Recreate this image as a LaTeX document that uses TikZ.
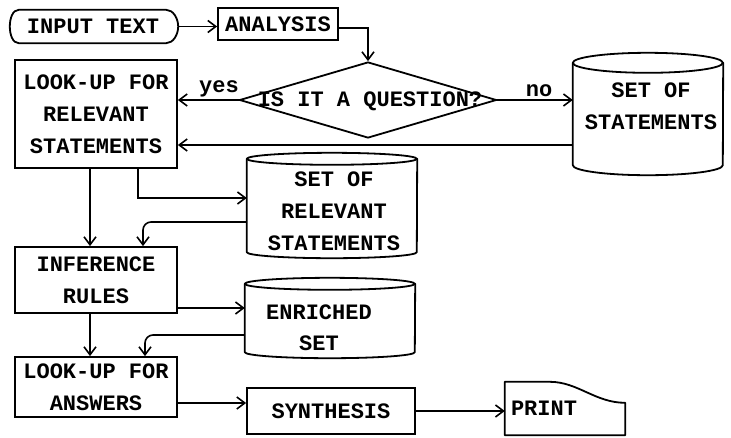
\documentclass[tikz,border=0pt]{standalone}
\usepackage{fontspec}
\setmonofont{Liberation Mono}
\usetikzlibrary{arrows.meta,shapes.geometric}
\newcommand\mycyl[3]{%
  \draw[line] ([yshift=-#3]#1.north west) arc[start angle=180,end angle=-180,x radius=#2,y radius=#3];
  \draw[line] ([yshift=-#3]#1.north west) -- ([yshift=#3]#1.south west)
    arc[start angle=180,end angle=360,x radius=#2,y radius=#3] -- ([yshift=-#3]#1.north east);
}
\begin{document}
\begin{tikzpicture}[x=1pt,y=-1pt,
  txt/.style={font=\ttfamily\bfseries\fontsize{22}{32}\selectfont, align=center, inner sep=0pt},
  box/.style={txt, draw, line width=1.8pt, rectangle},
  shp/.style={inner sep=0pt},
  line/.style={line width=1.8pt, line join=round, line cap=round},
  arr/.style={line width=1.6pt, -{Straight Barb[length=8pt,width=12pt]}},
  qdiamond/.style={diamond, draw, line width=1.8pt, inner sep=0pt, minimum width=257pt, minimum height=76pt},
]
\useasboundingbox (0,0) rectangle (731,437);

% nodes
\node[shp, minimum width=168pt, minimum height=33pt] (input) at (94,26.5) {};
\node[txt] (inputt) at (93,26.5) {INPUT TEXT};
\node[box, minimum width=120pt, minimum height=32pt] (analysis) at (278,24) {ANALYSIS};
\node[qdiamond] (q) at (368,100) {};
\node[txt] (qt) at (370,101) {IS IT A QUESTION?};
\node[box, minimum width=162pt, minimum height=108pt] (look1) at (96,114) {LOOK-UP FOR\\RELEVANT\\STATEMENTS};
\node[box, minimum width=162pt, minimum height=66pt] (infer) at (96,280) {INFERENCE\\RULES};
\node[box, minimum width=162pt, minimum height=60pt] (look2) at (96,387) {LOOK-UP FOR\\ANSWERS};
\node[box, minimum width=168pt, minimum height=46pt] (synth) at (331,411) {SYNTHESIS};
\node[shp, minimum width=120pt, minimum height=53pt] (print) at (565,408.5) {};
\node[txt] (printt) at (544,408) {PRINT};

\node[shp, minimum width=150pt, minimum height=122pt] (set1) at (648,114) {};
\node[txt] (set1t) at (651,106) {SET OF\\STATEMENTS};
\node[shp, minimum width=170pt, minimum height=105pt] (set2) at (332,205.5) {};
\node[txt] (set2t) at (334,211.5) {SET OF\\RELEVANT\\STATEMENTS};
\node[shp, minimum width=170pt, minimum height=80pt] (enr) at (330,318) {};
\node[txt, font=\ttfamily\bfseries\fontsize{22}{31}\selectfont] (enrt) at (319,327.5) {ENRICHED\\SET};

\node[txt] (yes) at (219,89) {yes};
\node[txt] (no) at (539,91) {no};

% outlines
\draw[line] ([xshift=9pt]input.north west) -- ([xshift=-12pt]input.north east)
  .. controls ([xshift=-5pt]input.north east) and ([yshift=8pt]input.east) .. (input.east)
  .. controls ([yshift=-8pt]input.east) and ([xshift=-5pt]input.south east) .. ([xshift=-12pt]input.south east)
  -- ([xshift=9pt]input.south west)
  .. controls ([xshift=-3pt]input.south west) and ([xshift=-3pt]input.north west) .. ([xshift=9pt]input.north west) -- cycle;

\draw[line] (print.north west) -- ([xshift=45pt]print.north west)
  .. controls +(28pt,0pt) and +(-30pt,0pt) .. ([yshift=-21pt]print.north east)
  -- (print.south east) -- (print.south west) -- cycle;

\mycyl{set1}{75pt}{10pt}
\mycyl{set2}{85pt}{6pt}
\mycyl{enr}{85pt}{6pt}

% connectors
\draw[arr] (input.east) -- (input.east -| analysis.west);
\draw[arr] ([yshift=-4pt]analysis.east) -| (q.north);
\draw[arr] (q.west) -- (q.west -| look1.east);
\draw[arr] (q.east) -- (q.east -| set1.west);
\coordinate (c1) at ([yshift=-31pt]set1.west);
\draw[arr] (c1) -- (c1 -| look1.east);
\draw[arr] ([xshift=-6pt]look1.south) -- ([xshift=-6pt]infer.north);
\draw[arr] ([xshift=42pt]look1.south) |- ([yshift=7.5pt]set2.west);
\draw[arr, rounded corners=8pt] ([yshift=-16.5pt]set2.west) -| ([xshift=47pt]infer.north);
\coordinate (c9) at ([yshift=10pt]enr.west);
\draw[arr] (c9 -| infer.east) -- (c9);
\draw[arr] ([xshift=-6pt]infer.south) -- ([xshift=-6pt]look2.north);
\draw[arr, rounded corners=8pt] ([yshift=-17pt]enr.west) -| ([xshift=49pt]look2.north);
\coordinate (c12) at ([yshift=-16pt]look2.east);
\draw[arr] (c12) -- (c12 -| synth.west);
\draw[arr] (synth.east) -- (synth.east -| print.west);
\end{tikzpicture}
\end{document}
